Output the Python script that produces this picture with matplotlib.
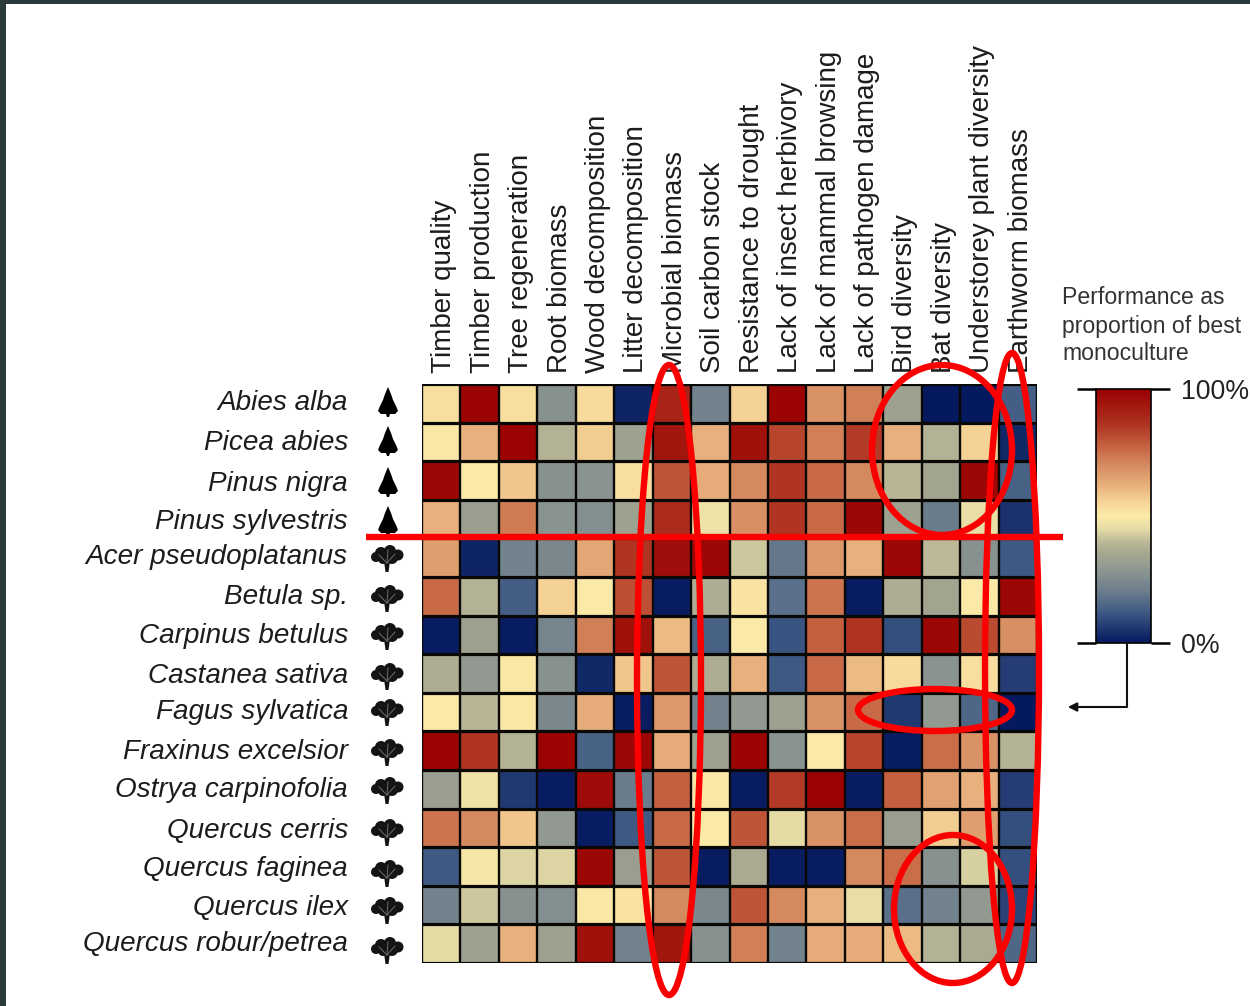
import numpy as np
import matplotlib
matplotlib.use("Agg")
import matplotlib.pyplot as plt
from matplotlib.colors import LinearSegmentedColormap
from matplotlib.patches import Ellipse, Polygon, Circle, Rectangle
from matplotlib.transforms import ScaledTranslation

plt.rcParams['font.family'] = ['Liberation Sans', 'DejaVu Sans']

W, H = 1250, 1006

species = ["Abies alba", "Picea abies", "Pinus nigra", "Pinus sylvestris",
           "Acer pseudoplatanus", "Betula sp.", "Carpinus betulus", "Castanea sativa",
           "Fagus sylvatica", "Fraxinus excelsior", "Ostrya carpinofolia", "Quercus cerris",
           "Quercus faginea", "Quercus ilex", "Quercus robur/petrea"]
is_conifer = [True, True, True, True] + [False] * 11

services = ["Timber quality", "Timber production", "Tree regeneration", "Root biomass",
            "Wood decomposition", "Litter decomposition", "Microbial biomass", "Soil carbon stock",
            "Resistance to drought", "Lack of insect herbivory", "Lack of mammal browsing",
            "Lack of pathogen damage", "Bird diversity", "Bat diversity",
            "Understorey plant diversity", "Earthworm biomass"]

abies = [.53, .99, .53, .27, .54, .02, .90, .22, .56, .99, .68, .72, .33, .00, .00, .13]
picea = [.51, .62, .99, .38, .57, .33, .94, .62, .95, .83, .72, .85, .62, .38, .56, .03]
nigra = [.98, .50, .58, .27, .28, .53, .80, .63, .70, .86, .76, .70, .39, .34, .98, .14]
sylvestris = [.62, .32, .73, .28, .26, .33, .88, .47, .69, .86, .76, .98, .33, .20, .46, .05]
acer = [.66, .02, .22, .24, .64, .86, .96, .98, .42, .19, .67, .62, .98, .40, .27, .12]
betula = [.76, .38, .13, .56, .50, .81, .01, .37, .52, .17, .74, .01, .37, .34, .50, .98]
carpinus = [.01, .33, .01, .23, .72, .95, .60, .14, .50, .11, .78, .86, .10, .98, .82, .69]
castanea = [.37, .30, .51, .27, .03, .58, .80, .37, .62, .12, .76, .60, .54, .28, .53, .07]
fagus = [.50, .39, .51, .24, .63, .01, .67, .22, .30, .33, .68, .76, .06, .30, .15, .00]
fraxinus = [.99, .86, .38, .99, .14, .98, .63, .33, .99, .28, .50, .83, .01, .75, .68, .38]
ostrya = [.32, .47, .06, .01, .97, .20, .78, .51, .01, .85, .99, .01, .78, .65, .62, .07]
cerris = [.74, .70, .58, .30, .01, .12, .76, .50, .80, .45, .68, .75, .32, .57, .66, .10]
faginea = [.12, .49, .44, .44, .98, .32, .80, .01, .36, .01, .01, .70, .75, .27, .43, .10]
ilex = [.22, .42, .27, .26, .51, .52, .70, .24, .80, .70, .62, .46, .17, .22, .30, .08]
robur = [.45, .33, .62, .33, .95, .22, .94, .27, .72, .22, .63, .63, .60, .38, .36, .15]
values = np.array([abies, picea, nigra, sylvestris, acer, betula, carpinus, castanea,
                   fagus, fraxinus, ostrya, cerris, faginea, ilex, robur])

# the labels and icons do not sit exactly on the rows in the original
label_y = [403, 443, 484, 522, 557, 597, 636, 676, 712, 752, 790, 831, 869, 908, 944]
icon_y = [402, 441, 482, 521, 558, 598, 636, 676, 712, 752, 790, 832, 873, 910, 950]

cmap = LinearSegmentedColormap.from_list("perf", [
    (0.00, "#04195f"), (0.12, "#3f5a84"), (0.20, "#6b7d8c"), (0.28, "#8a9490"),
    (0.35, "#a5a690"), (0.40, "#bcb998"), (0.45, "#e5dca5"), (0.50, "#fbeaa8"),
    (0.55, "#f6d799"), (0.62, "#e8b07c"), (0.70, "#d58a5f"), (0.78, "#c4603f"),
    (0.87, "#ad3020"), (1.00, "#990000")])


def px_axes(fig, x0, y0, x1, y1):
    # axes from pixel box, y counted from the top
    return fig.add_axes([x0 / W, 1 - y1 / H, (x1 - x0) / W, (y1 - y0) / H])


fig = plt.figure(figsize=(W / 100, H / 100), dpi=100, facecolor="white")

# heat map
ax = px_axes(fig, 422, 384, 1037, 963)
mesh = ax.pcolormesh(values, cmap=cmap, vmin=0, vmax=1)
ax.set_ylim(len(species), 0)
ax.hlines(range(len(species) + 1), 0, len(services), color="#0a0805", lw=2.3)
ax.vlines(range(len(services) + 1), 0, len(species), color="#0a0805", lw=1.7)
ax.tick_params(length=0)
ax.set_yticks([])
ax.xaxis.tick_top()
ax.set_xticks(np.arange(len(services)) + 0.5)
ax.set_xticklabels(services, rotation=90, fontsize=20, color="#1c1c1c", ha="center", va="bottom")
ax.tick_params(axis="x", pad=8)
nudge = ScaledTranslation(3 / 100, 0, fig.dpi_scale_trans)
for lab in ax.get_xticklabels():
    lab.set_transform(lab.get_transform() + nudge)
for s in ax.spines.values():
    s.set_visible(False)

# colour bar
cax = px_axes(fig, 1096, 389, 1151, 643)
cb = fig.colorbar(mesh, cax=cax)
cb.outline.set_linewidth(1.2)
cb.set_ticks([0, 1], labels=["0%", "100%"])
cax.tick_params(left=True, right=True, length=13.5, width=1.8, labelsize=19.3, pad=8, labelcolor="#222222")

# everything else in pixel coordinates
ov = fig.add_axes([0, 0, 1, 1], facecolor="none")
ov.set_xlim(0, W)
ov.set_ylim(H, 0)
ov.axis("off")

# dark window edge
ov.add_patch(Rectangle((0, 0), W, 4, color="#2b3a3a", lw=0))
ov.add_patch(Rectangle((0, 0), 6, H, color="#2b3a3a", lw=0))

for name, y in zip(species, label_y):
    ov.text(348, y, name, ha="right", va="center", style="italic", fontsize=20.1, color="#1c1c1c")


def conifer(x, y):
    ov.add_patch(Polygon([(x, y - 15), (x + 3, y - 8), (x + 5, y - 2), (x + 8, y + 4), (x + 10, y + 9),
                          (x + 7, y + 12), (x + 2, y + 12), (x + 1, y + 15), (x - 1, y + 15),
                          (x - 2, y + 12), (x - 7, y + 12), (x - 10, y + 9), (x - 8, y + 4),
                          (x - 5, y - 2), (x - 3, y - 8)],
                         color="black", lw=0))


def broadleaf(x, y):
    for dx, dy, r in [(-11, -1, 5), (-6, -5, 6), (3, -7, 6), (11, -3, 5.5), (-4, 1, 5), (5, 0, 6)]:
        ov.add_patch(Circle((x + dx, y + dy), r, color="#141414", lw=0))
    ov.add_patch(Polygon([(x - 3, y + 3), (x + 3, y + 3), (x + 1.5, y + 14), (x - 1.5, y + 14)],
                         color="#141414", lw=0))
    # pale branches inside the crown
    for dx0, dy0, dx1, dy1 in [(0, 5, -8, -3), (0, 5, 8, -4), (0, 5, 1, -8)]:
        ov.plot([x + dx0, x + dx1], [y + dy0, y + dy1], color="#777777", lw=0.6)


for conif, y in zip(is_conifer, icon_y):
    if conif:
        conifer(388, y)
    else:
        broadleaf(387, y)

# legend title and the arrow under the bar
ov.text(1062, 298, "Performance as", ha="left", va="center", fontsize=16.6, color="#333333")
ov.text(1062, 326, "proportion of best", ha="left", va="center", fontsize=16.6, color="#333333")
ov.text(1062, 353, "monoculture", ha="left", va="center", fontsize=16.6, color="#333333")
ov.plot([1127, 1127, 1076], [643, 707, 707], color="#111111", lw=1.5)
ov.annotate("", xy=(1065, 707), xytext=(1080, 707),
            arrowprops=dict(arrowstyle="-|>", color="#111111", lw=1.5, mutation_scale=13))

# red hand-drawn marks
red = "#fb0000"
for cx, cy, w, h in [(669, 680, 64, 630), (1012, 668, 54, 630), (942, 450, 140, 170),
                     (935, 710, 154, 42), (953, 909, 118, 148)]:
    ov.add_patch(Ellipse((cx, cy), w, h, fill=False, edgecolor=red, lw=4.6))
ov.plot([366, 1063], [537, 537], color=red, lw=4.6, solid_capstyle="butt")

fig.savefig("out.png", dpi=100)
